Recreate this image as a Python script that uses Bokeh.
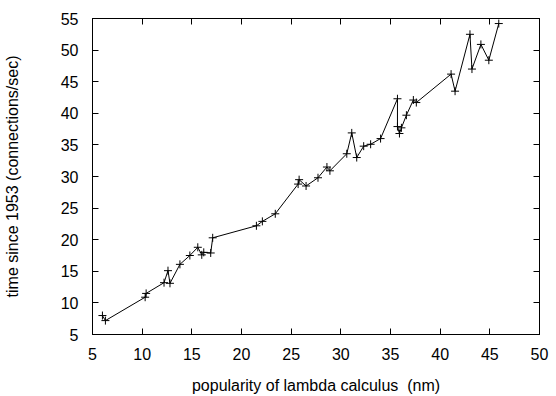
from bokeh.plotting import figure
from bokeh.models import Range1d, FixedTicker, LinearAxis, CustomJSTickFormatter
from bokeh.embed import file_html
from bokeh.resources import INLINE

popularity = [6.0, 6.3, 10.3, 10.4, 12.2, 12.6, 12.8, 13.8, 14.8, 15.6, 16.0, 16.2, 16.9, 17.1,
              21.5, 22.1, 23.4, 25.7, 25.8, 26.5, 27.7, 28.6, 28.9, 30.6, 31.1, 31.6, 32.3,
              33.0, 34.0, 35.7, 35.7, 35.9, 36.1, 36.6, 37.3, 37.6, 41.1, 41.5, 43.0, 43.2,
              44.1, 44.9, 45.9]
time_since = [8.0, 7.2, 10.9, 11.5, 13.2, 15.1, 13.1, 16.1, 17.5, 18.8, 17.6, 18.0, 17.9, 20.3,
              22.2, 22.9, 24.1, 28.8, 29.5, 28.5, 29.8, 31.5, 30.9, 33.6, 36.9, 33.0, 34.8,
              35.1, 36.0, 42.3, 37.9, 36.8, 37.7, 39.7, 42.1, 41.7, 46.2, 43.5, 52.5, 47.0,
              50.9, 48.4, 54.2]
x_ticks = [5, 10, 15, 20, 25, 30, 35, 40, 45, 50]
y_ticks = [5, 10, 15, 20, 25, 30, 35, 40, 45, 50, 55]

FONT = "Liberation Sans"

p = figure(width=556, height=396, output_backend="svg", toolbar_location=None,
           x_range=Range1d(5, 50), y_range=Range1d(5, 55),
           min_border_left=90, min_border_right=17, min_border_top=18, min_border_bottom=62,
           x_axis_label="popularity of lambda calculus\u00a0\u00a0(nm)",
           y_axis_label="time since 1953 (connections/sec)")
p.grid.visible = False
p.outline_line_color = "black"
p.outline_line_width = 1
p.background_fill_color = "white"
p.border_fill_color = "white"

p.xaxis.ticker = FixedTicker(ticks=x_ticks)
p.yaxis.ticker = FixedTicker(ticks=y_ticks)

for ax in (p.xaxis[0], p.yaxis[0]):
    ax.major_tick_in = 6
    ax.major_tick_out = 0
    ax.minor_tick_in = 0
    ax.minor_tick_out = 0
    ax.axis_line_color = "black"
    ax.major_tick_line_color = "black"
    ax.major_label_text_font = FONT
    ax.major_label_text_font_size = "16px"
    ax.major_label_text_color = "black"
    ax.axis_label_text_font = FONT
    ax.axis_label_text_font_size = "16px"
    ax.axis_label_text_font_style = "normal"
    ax.axis_label_text_color = "black"

p.xaxis.major_label_standoff = 13
p.xaxis.axis_label_standoff = 14
p.yaxis.major_label_standoff = 14
p.yaxis.axis_label_standoff = 37

top = LinearAxis(ticker=FixedTicker(ticks=x_ticks),
                 formatter=CustomJSTickFormatter(code="return ''"))
right = LinearAxis(ticker=FixedTicker(ticks=y_ticks),
                   formatter=CustomJSTickFormatter(code="return ''"))
for ax in (top, right):
    ax.major_tick_in = 6
    ax.major_tick_out = 0
    ax.minor_tick_in = 0
    ax.minor_tick_out = 0
    ax.major_label_standoff = 0
    ax.axis_line_color = "black"
    ax.major_tick_line_color = "black"
p.add_layout(top, "above")
p.add_layout(right, "right")

p.line(popularity, time_since, line_color="black", line_width=1)
p.scatter(popularity, time_since, marker="cross", size=8, line_color="black", line_width=1)

open("out.html", "w").write(file_html(p, INLINE))
